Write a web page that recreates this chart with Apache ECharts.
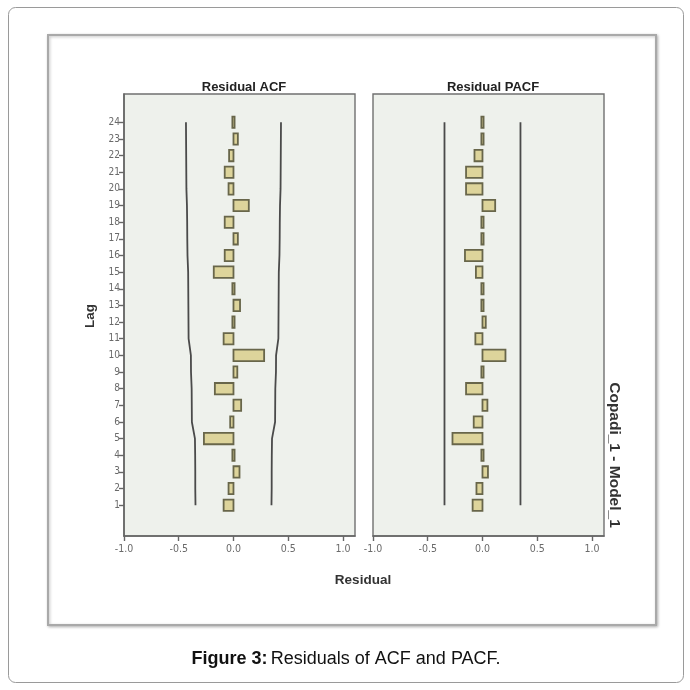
<!DOCTYPE html>
<html>
<head>
<meta charset="utf-8">
<script src="https://cdn.jsdelivr.net/npm/echarts@6/dist/echarts.min.js"></script>
<style>
html,body{margin:0;padding:0;background:#fff;}
#c{width:690px;height:690px;}
</style>
</head>
<body>
<div id="c"></div>
<script>
// Lags 1..24
const lags = [1,2,3,4,5,6,7,8,9,10,11,12,13,14,15,16,17,18,19,20,21,22,23,24];
// Residual ACF values per lag
const acfValues = [-0.09,-0.045,0.055,-0.02,-0.27,-0.03,0.07,-0.17,0.035,0.28,-0.09,0.02,0.06,0.005,-0.18,-0.08,0.04,-0.08,0.14,-0.045,-0.08,-0.04,0.04,0.008];
// Residual PACF values per lag
const pacfValues = [-0.09,-0.055,0.05,-0.01,-0.274,-0.08,0.045,-0.15,-0.01,0.21,-0.065,0.03,0.01,-0.005,-0.06,-0.16,-0.005,-0.005,0.116,-0.15,-0.15,-0.073,-0.005,0.02];
// ACF confidence limits per lag
const acfUpper = [0.347,0.349,0.349,0.350,0.352,0.380,0.381,0.382,0.388,0.389,0.410,0.411,0.412,0.413,0.414,0.420,0.422,0.423,0.425,0.430,0.431,0.432,0.433,0.434];
const acfLower = [-0.347,-0.349,-0.349,-0.350,-0.352,-0.380,-0.381,-0.382,-0.388,-0.389,-0.410,-0.411,-0.412,-0.413,-0.414,-0.420,-0.422,-0.423,-0.425,-0.430,-0.431,-0.432,-0.433,-0.434];
// PACF confidence limits per lag
const pacfUpper = [0.347,0.347,0.347,0.347,0.347,0.347,0.347,0.347,0.347,0.347,0.347,0.347,0.347,0.347,0.347,0.347,0.347,0.347,0.347,0.347,0.347,0.347,0.347,0.347];
const pacfLower = [-0.347,-0.347,-0.347,-0.347,-0.347,-0.347,-0.347,-0.347,-0.347,-0.347,-0.347,-0.347,-0.347,-0.347,-0.347,-0.347,-0.347,-0.347,-0.347,-0.347,-0.347,-0.347,-0.347,-0.347];
// X axis tick values
const xTicks = [-1.0,-0.5,0.0,0.5,1.0];

const panelTitles = ['Residual ACF','Residual PACF'];
const fig = { xTitle:'Residual', yTitle:'Lag', facet:'Copadi_1 - Model_1' };

const chart = echarts.init(document.getElementById('c'), null, {renderer:'canvas'});

const bg = '#eef1ec';
const axisCol = '#666';
const lblCol = '#6a6a6a';
const narrow = 'Liberation Sans Narrow, DejaVu Sans Condensed, sans-serif';
const sans = 'Liberation Sans, Arial, sans-serif';

function xAxisDef(i){
  return {
    gridIndex:i, type:'value', min:-1.0, max:1.11,
    axisLine:{show:true, onZero:false, lineStyle:{color:axisCol, width:1.6}},
    axisTick:{show:true, length:5, customValues:xTicks, lineStyle:{color:axisCol, width:1.4}},
    axisLabel:{show:true, customValues:xTicks, color:lblCol, fontSize:10.5, fontFamily:narrow, margin:8,
      formatter:function(v){return v.toFixed(1);}},
    splitLine:{show:false}
  };
}
function yAxisDef(i){
  return {
    gridIndex:i, type:'value', min:-0.85, max:25.7,
    axisLine:{show:i===0, onZero:false, lineStyle:{color:axisCol, width:1.6}},
    axisTick:{show:i===0, length:5, customValues:lags, lineStyle:{color:axisCol, width:1.4}},
    axisLabel:{show:i===0, customValues:lags, color:lblCol, fontSize:10, fontFamily:narrow, margin:4},
    splitLine:{show:false}
  };
}

function barSeries(i, vals){
  return {
    type:'custom', xAxisIndex:i, yAxisIndex:i,
    data: lags.map((l,k)=>[vals[k], l]),
    renderItem:function(params, api){
      const v = api.value(0), l = api.value(1);
      const p0 = api.coord([0, l]);
      const p1 = api.coord([v, l]);
      const h = api.size([0, 0.68])[1];
      let x = Math.min(p0[0], p1[0]);
      let w = Math.abs(p1[0]-p0[0]);
      if (w < 2.2) { w = 2.2; x = p0[0]-1.1; }
      return {
        type:'rect',
        shape:{x:x, y:p0[1]-h/2, width:w, height:h},
        style:{fill:'#ddd49b', stroke:'#68664a', lineWidth:1.8}
      };
    },
    silent:true, z:3
  };
}
function limitSeries(i, vals){
  return {
    type:'line', xAxisIndex:i, yAxisIndex:i,
    data: lags.map((l,k)=>[vals[k], l]),
    showSymbol:false, symbol:'none', smooth:false,
    lineStyle:{color:'#4a4a4a', width:1.8},
    silent:true, z:2
  };
}

const option = {
  backgroundColor:'#fff',
  animation:false,
  grid:[
    {left:124, top:94, width:231, height:442, show:true, backgroundColor:bg, borderColor:'#707070', borderWidth:1.4},
    {left:373, top:94, width:231, height:442, show:true, backgroundColor:bg, borderColor:'#707070', borderWidth:1.4}
  ],
  xAxis:[xAxisDef(0), xAxisDef(1)],
  yAxis:[yAxisDef(0), yAxisDef(1)],
  title:[
    {text:panelTitles[0], left:239, top:76, textAlign:'center', textStyle:{fontSize:13, fontWeight:'bold', color:'#222', fontFamily:sans}},
    {text:panelTitles[1], left:488, top:76, textAlign:'center', textStyle:{fontSize:13, fontWeight:'bold', color:'#222', fontFamily:sans}}
  ],
  graphic:[
    {type:'rect', shape:{x:8.5, y:7.5, width:675, height:675, r:7}, style:{fill:'none', stroke:'#9a9a9a', lineWidth:1}, z:-10, silent:true},
    {type:'rect', shape:{x:48, y:35, width:608, height:590}, style:{fill:'#fff', stroke:'#a9a9a9', lineWidth:2, shadowColor:'rgba(0,0,0,0.25)', shadowBlur:3, shadowOffsetX:1, shadowOffsetY:1}, z:-9, silent:true},
    {type:'text', x:363, y:580, style:{text:fig.xTitle, fontSize:13.5, fontWeight:'bold', fill:'#333', align:'center', verticalAlign:'middle', fontFamily:sans}},
    {type:'text', x:90, y:316, rotation:Math.PI/2, style:{text:fig.yTitle, fontSize:13.5, fontWeight:'bold', fill:'#333', align:'center', verticalAlign:'middle', fontFamily:sans}},
    {type:'text', x:614, y:455, rotation:-Math.PI/2, style:{text:fig.facet, fontSize:15.5, fontWeight:'bold', fill:'#333', align:'center', verticalAlign:'middle', fontFamily:sans}},
    {type:'text', x:346, y:659, style:{rich:{b:{fontSize:18, fontWeight:'bold', fill:'#111', fontFamily:sans}, n:{fontSize:18, fill:'#111', fontFamily:sans}}, text:'{b|Figure 3:} {n|Residuals of ACF and PACF.}', align:'center', verticalAlign:'middle'}}
  ],
  series:[
    limitSeries(0, acfUpper), limitSeries(0, acfLower), barSeries(0, acfValues),
    limitSeries(1, pacfUpper), limitSeries(1, pacfLower), barSeries(1, pacfValues)
  ]
};
chart.setOption(option);
</script>
</body>
</html>
